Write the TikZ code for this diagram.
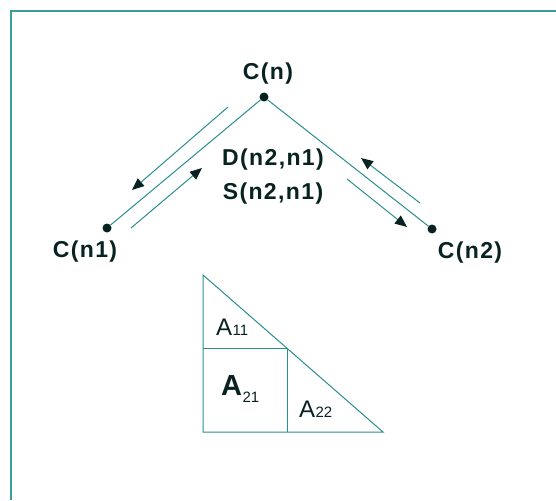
\documentclass[tikz,border=0pt]{standalone}
\usepackage{fontspec}
\setmainfont{Liberation Sans}
\newfontfamily\labfont[LetterSpace=6]{Liberation Sans}
\usetikzlibrary{arrows.meta}
\definecolor{framecol}{HTML}{3A9C9C}
\definecolor{linecol}{HTML}{2A8E8E}
\definecolor{textcol}{HTML}{082222}
\tikzset{
  conn/.style={draw=linecol, line width=1pt},
  arr/.style={conn, -{Triangle[length=12pt,width=10pt,color=textcol]}},
  dotnode/.style={circle, fill=textcol, inner sep=0pt, minimum size=9pt},
  clabel/.style={anchor=base, inner sep=0pt, text=textcol, font=\labfont\bfseries\fontsize{23}{23}\selectfont},
  alab/.style={anchor=base west, inner sep=0pt, text=textcol, font=\fontsize{24}{24}\selectfont},
  sublab/.style={anchor=base west, inner sep=0pt, text=textcol, font=\fontsize{15}{15}\selectfont},
}
\begin{document}
\begin{tikzpicture}[x=1pt,y=-1pt]
\useasboundingbox (0,0) rectangle (556,500);
% frame (top and left edges)
\draw[framecol, line width=2pt] (556,11) -- (10.5,11) -- (10.5,500);
% nodes
\node[dotnode] (cn) at (264,97) {};
\node[dotnode] (cn1) at (107,228) {};
\node[dotnode] (cn2) at (432,229) {};
\node[clabel] (lcn) at (268,80) {C(n)};
\node[clabel] (lcn1) at (85,257) {C(n1)};
\node[clabel] (lcn2) at (470,258) {C(n2)};
\node[clabel] (ld) at (273,165) {D(n2,n1)};
\node[clabel] (ls) at (273,199) {S(n2,n1)};
% tree edges
\draw[conn] (cn) -- (cn1);
\draw[conn] (cn) -- (cn2);
% arrow endpoints
\coordinate (a1s) at (228,107); \coordinate (a1e) at (132,190);
\coordinate (a2s) at (131,228); \coordinate (a2e) at (202,168);
\coordinate (a3s) at (420,203); \coordinate (a3e) at (361,158);
\coordinate (a4s) at (347,179); \coordinate (a4e) at (407,227);
\draw[arr] (a1s) -- (a1e);
\draw[arr] (a2s) -- (a2e);
\draw[arr] (a3s) -- (a3e);
\draw[arr] (a4s) -- (a4e);
% triangle matrix
\coordinate (tt) at (203,275);
\coordinate (tbl) at (203,432);
\coordinate (tbr) at (383,432);
\coordinate (tm) at (287,348);
\coordinate (tml) at (203,348);
\coordinate (tmb) at (287,432);
\draw[conn] (tt) -- (tbl) -- (tbr) -- cycle;
\draw[conn] (tml) -- (tm) -- (tmb);
% labels
\node[alab] (a11) at (216,335) {A};
\node[sublab] (s11) at (a11.base east) {11};
\node[alab, font=\bfseries\fontsize{29}{29}\selectfont] (a21) at (221,395) {A};
\node[sublab, yshift=-7pt] (s21) at (a21.base east) {21};
\node[alab] (a22) at (299,417) {A};
\node[sublab] (s22) at (a22.base east) {22};
\end{tikzpicture}
\end{document}
